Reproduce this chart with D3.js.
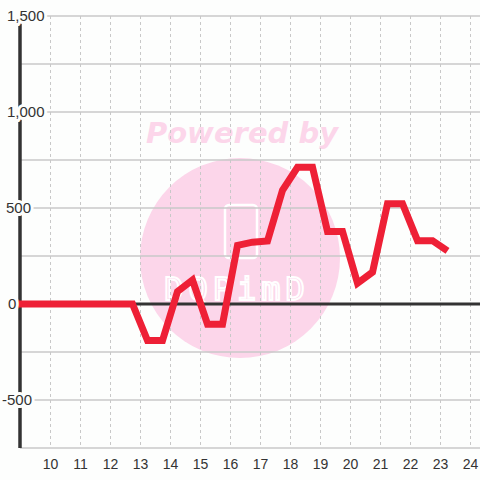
<!DOCTYPE html>
<html>
<head>
<meta charset="utf-8">
<script src="https://cdn.jsdelivr.net/npm/d3@7"></script>
<style>
  html, body { margin: 0; padding: 0; background: #fdfefd; }
  svg { display: block; font-family: "Liberation Sans", Arial, sans-serif; }
</style>
</head>
<body>
<div id="chart"></div>
<script>
// half-hour readings (hour of day -> value)
const hours = [8.75, 9.25, 9.75, 10.25, 10.75, 11.25, 11.75, 12.25, 12.75, 13.25, 13.75,
  14.25, 14.75, 15.25, 15.75, 16.25, 16.75, 17.25, 17.75, 18.25, 18.75, 19.25, 19.75,
  20.25, 20.75, 21.25, 21.75, 22.25, 22.75, 23.25];
const values = [0, 0, 0, 0, 0, 0, 0, 0, 0, -190, -190,
  65, 125, -105, -105, 305, 322, 328, 592, 712, 712, 377, 377,
  108, 166, 522, 522, 330, 330, 277];
const xTicks = [10, 11, 12, 13, 14, 15, 16, 17, 18, 19, 20, 21, 22, 23, 24];
const yGrid = [1500, 1250, 1000, 750, 500, 250, -250, -500, -750];
const yLabels = [1500, 1000, 500, 0, -500];

const width = 480, height = 480;
const plotLeft = 20, plotTop = 16, plotBottom = 448;

const x = d3.scaleLinear().domain([9, 24.333]).range([plotLeft, width]);
const y = d3.scaleLinear().domain([-750, 1500]).range([plotBottom, plotTop]);

const svg = d3.select("#chart").append("svg")
  .attr("width", width)
  .attr("height", height);

// watermark
const wm = svg.append("g");
wm.append("circle")
  .attr("cx", 240).attr("cy", 258).attr("r", 100)
  .style("fill", "#fcd6ea");
wm.append("text")
  .attr("x", 242).attr("y", 143)
  .attr("text-anchor", "middle")
  .text("Powered by")
  .style("fill", "#fcd6ea")
  .style("font-size", "29px")
  .style("font-weight", "bold")
  .style("font-style", "italic")
  .style("font-family", "Verdana, 'DejaVu Sans', sans-serif");
wm.append("rect")
  .attr("x", 225).attr("y", 205).attr("width", 32).attr("height", 53).attr("rx", 4)
  .style("fill", "none").style("stroke", "#fff").style("stroke-width", 2.5);
wm.append("text")
  .attr("x", 237).attr("y", 300)
  .attr("text-anchor", "middle")
  .text("DQPimD")
  .style("fill", "none")
  .style("stroke", "#fff")
  .style("stroke-width", 2)
  .style("letter-spacing", "5px")
  .style("font-size", "32px")
  .style("font-family", "'DejaVu Sans Mono', monospace");

// vertical dotted grid
svg.append("g").selectAll("line")
  .data(xTicks)
  .enter().append("line")
  .attr("x1", d => x(d) + 0.5).attr("x2", d => x(d) + 0.5)
  .attr("y1", plotTop).attr("y2", plotBottom)
  .style("stroke", "#c8c8c8")
  .style("stroke-width", 1)
  .style("stroke-dasharray", "3,3");

// horizontal grid
svg.append("g").selectAll("line")
  .data(yGrid)
  .enter().append("line")
  .attr("x1", plotLeft).attr("x2", width)
  .attr("y1", d => y(d)).attr("y2", d => y(d))
  .style("stroke", "#c8c8c8")
  .style("stroke-width", 1.5);

// zero line
svg.append("line")
  .attr("x1", plotLeft).attr("x2", width)
  .attr("y1", y(0)).attr("y2", y(0))
  .style("stroke", "#333")
  .style("stroke-width", 3);

// left axis
svg.append("line")
  .attr("x1", plotLeft).attr("x2", plotLeft)
  .attr("y1", plotTop).attr("y2", plotBottom)
  .style("stroke", "#333")
  .style("stroke-width", 3.5);

// series line
svg.append("defs").append("clipPath").attr("id", "clip")
  .append("rect").attr("x", 17).attr("y", 0).attr("width", width - 17).attr("height", height);

const line = d3.line()
  .x((d, i) => x(hours[i]))
  .y(d => y(d));

svg.append("path")
  .datum(values)
  .attr("clip-path", "url(#clip)")
  .attr("d", line)
  .style("fill", "none")
  .style("stroke", "#ee2036")
  .style("stroke-width", 7)
  .style("stroke-linejoin", "miter");

// y labels with background halo
const fmt = d3.format(",");
svg.append("g").selectAll("text")
  .data(yLabels)
  .enter().append("text")
  .attr("x", d => d < 0 ? 2 : (d === 0 ? 8 : (d >= 1000 ? 7 : 6)))
  .attr("y", d => y(d))
  .attr("dy", "0.35em")
  .text(d => fmt(d).replace("\u2212", "-"))
  .style("fill", "#333")
  .style("font-size", "15px")
  .style("stroke", "#fdfefd")
  .style("stroke-width", 6)
  .style("paint-order", "stroke");

// x labels
svg.append("g").selectAll("text")
  .data(xTicks)
  .enter().append("text")
  .attr("x", d => x(d) + 0.5)
  .attr("y", 464)
  .attr("dy", "0.35em")
  .attr("text-anchor", "middle")
  .text(d => d)
  .style("fill", "#333")
  .style("font-size", "14px");
</script>
</body>
</html>
